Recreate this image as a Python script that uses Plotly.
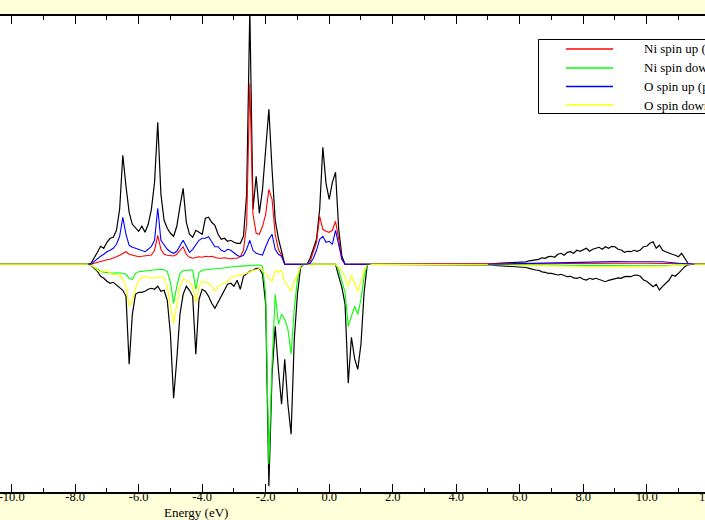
import plotly.graph_objects as go

# ---------------- data (DOS, arbitrary units; down-spin stored as magnitudes) ----------------
energy_vb = [round(-7.6 + 0.1 * i, 1) for i in range(90)]          # -7.6 ... 1.3 eV
energy_cb = [round(5.0 + 0.1 * i, 1) for i in range(65)]           # 5.0 ... 11.4 eV
energy_cb_coarse = [5.0, 5.5, 6.0, 6.5, 7.0, 7.5, 8.0, 8.5, 9.0, 9.5, 10.0, 10.5, 11.0, 11.5]

total_up_vb = [0, 1, 6, 12, 18, 16, 22, 26, 27, 34,
               55, 109, 78, 52, 40, 36, 33, 38, 32, 40,
               55, 82, 142, 70, 44, 36, 31, 28, 38, 58,
               76, 42, 30, 27, 34, 32, 30, 46, 47, 42,
               39, 30, 25, 26, 23, 24, 22, 21, 21, 28,
               70, 255, 55, 88, 51, 75, 118, 155, 95, 44,
               26, 14, 0, 0, 0, 0, 0, 0, 0, 0,
               6, 15, 25, 55, 117, 81, 65, 82, 92, 35,
               8, 0, 0, 0, 0, 0, 0, 0, 0, 0]
total_dn_vb = [0, 1, 4, 7, 12, 14, 17, 19, 18, 21,
               24, 26, 32, 100, 50, 30, 28, 28, 27, 25,
               24, 25, 22, 27, 26, 36, 70, 134, 95, 50,
               30, 22, 26, 32, 90, 35, 25, 27, 32, 39,
               44, 38, 33, 26, 20, 19, 22, 16, 25, 12,
               9, 7, 6, 4, 4, 10, 40, 222, 110, 62,
               105, 140, 95, 140, 170, 75, 30, 3, 0, 0,
               0, 0, 0, 0, 0, 0, 0, 0, 0, 12,
               23, 40, 119, 73, 94, 105, 80, 28, 0, 0]
ni_up_vb = [0, 0, 1, 2, 3, 4, 4.5, 5, 6, 7.6,
            9, 11, 12.6, 10, 9, 8, 7.6, 8, 8.3, 9,
            9.3, 14, 29, 15, 10, 9, 8.3, 8.3, 10, 14,
            17.6, 10, 7, 6, 7, 7.6, 7, 8, 7.6, 8,
            7, 6, 6, 6.5, 6, 5.5, 6, 6, 7.6, 14,
            40, 181, 50, 31, 30, 38, 50, 75, 65, 30,
            15, 9, 0, 0, 0, 0, 0, 0, 0, 0,
            3, 12, 22, 48, 35, 33, 32, 34, 43, 25,
            5, 0, 0, 0, 0, 0, 0, 0, 0, 0]
ni_dn_vb = [0, 1, 3, 5, 7, 8, 8.4, 9, 9, 8.5,
            8.4, 9, 10, 14, 15, 9, 7.4, 7, 6.5, 6.4,
            6, 5.7, 5.2, 5, 5.5, 7, 18, 39, 22, 9,
            6.4, 6, 5.7, 6, 25, 8, 6, 5.5, 5, 5,
            4.5, 4.2, 4, 3.5, 3, 2.5, 2.4, 2, 1.8, 1.7,
            1.2, 0.8, 0.7, 0.7, 0.7, 2, 30, 200, 100, 30,
            60, 50, 55, 65, 90, 45, 15, 1, 0, 0,
            0, 0, 0, 0, 0, 0, 0, 0, 0, 6,
            16, 28, 62, 51, 42, 50, 35, 12, 0, 0]
o_up_vb = [0, 0, 3, 6, 8, 10, 12.6, 14, 16, 20,
           28, 47, 30, 19, 17, 16, 15, 14, 12.6, 15,
           18, 24, 56, 24, 19, 15, 12.6, 11, 13, 18,
           24, 18, 12, 15, 20, 24, 26, 26, 27.6, 22,
           17.6, 17.6, 14, 12.6, 15, 14, 11, 9, 7.6, 9,
           15, 24, 14, 11, 10, 9.3, 17.6, 25, 30, 15,
           10, 8, 0, 0, 0, 0, 0, 0, 0, 0,
           1, 6, 14, 25, 28, 22, 23, 20, 34, 20,
           5, 0, 0, 0, 0, 0, 0, 0, 0, 0]
o_dn_vb = [0, 1, 3, 6, 8, 6, 6, 9, 10.7, 10,
           11, 15, 22, 42, 36, 24, 16, 13, 12.4, 13,
           14, 13, 12.4, 12.4, 14, 22, 42, 59, 40, 22,
           14, 16, 18, 22, 38, 22, 17, 18, 19, 22,
           27, 22, 20, 19, 17, 13, 12.4, 11, 10.7, 10,
           9, 7.5, 6, 5.5, 4, 6, 9, 14, 17, 6,
           8, 6, 18, 22, 27, 17, 11, 2, 0, 0,
           0, 0, 0, 0, 0, 0, 0, 0, 0, 3,
           7, 12.4, 22, 11, 19, 27, 17, 6, 0, 0]

total_up_cb = [0, 0.5, 0.8, 1, 1.2, 1.5, 1.5, 2, 1.8, 2.2,
               2.6, 3, 2.5, 3.5, 4, 4.3, 5, 6.5, 6, 7.6,
               8, 7, 10, 11, 9, 12, 12.6, 11, 14, 13,
               14.3, 16, 13, 15, 16, 17, 15, 17.6, 16, 18,
               17.6, 15, 14.3, 12, 13, 12.6, 14, 13, 14.3, 17.6,
               18, 21, 22.6, 16, 19, 14, 12.6, 11, 10, 9,
               7.6, 11, 6, 1, 0]
total_dn_cb = [0, 0.6, 1, 1.2, 1.5, 1.8, 2, 2.4, 2.2, 2.8,
               3, 3.5, 3.2, 4, 5, 5.7, 6, 7.5, 8, 9,
               9, 10, 10.7, 10, 11.5, 12.4, 12, 13.5, 14, 13,
               15, 15.7, 14, 15, 14, 15, 16, 17.4, 16, 15,
               14, 13.5, 14, 12.4, 12, 12.4, 11, 10.7, 12, 15.7,
               17, 20, 22.4, 20, 25.7, 22, 19, 16, 10.7, 12,
               9, 6, 2.4, 0.5, 0]
ni_up_cb = [0, 0.2, 0.3, 0.5, 0.6, 0.8, 1, 1, 1, 1, 1, 0.8, 0.4, 0]
ni_dn_cb = [0, 0.3, 0.5, 0.8, 1, 1.2, 1.5, 1.5, 1.5, 1.5, 1.6, 1.5, 0.5, 0]
o_up_cb = [0, 0.3, 0.6, 1, 1.5, 2, 2.5, 2.7, 2.7, 2.5, 2.7, 2.5, 1, 0]
o_dn_cb = [0, 0.5, 0.8, 1.2, 1.6, 2, 2.3, 2.4, 2.3, 2.2, 2.4, 2.2, 0.8, 0]

legend_labels = ["Ni spin up (d)", "Ni spin down (d)", "O spin up (p)", "O spin down (p)"]
tick_values = [-10, -8, -6, -4, -2, 0, 2, 4, 6, 8, 10]
tick_labels = ["-10.0", "-8.0", "-6.0", "-4.0", "-2.0", "0.0", "2.0", "4.0", "6.0", "8.0", "10.0"]
x_title = "Energy (eV)"

# ---------------- style / geometry ----------------
W, H = 705, 520
M_T, M_B = 16, 28
X_RANGE = [-10.368, 11.836]
Y_RANGE = [-227.7, 248.3]
BG = "#ffffd9"
SERIF = "Liberation Serif, Times New Roman, serif"
C_NI_UP = "#ff0000"
C_NI_DN = "#00ff00"
C_O_UP = "#0000ff"
C_O_DN = "#ffff00"

E_LO, E_HI = -11.5, 12.5


def full(vb_x, vb_y, cb_x, cb_y, sign):
    xs = [E_LO] + list(vb_x) + list(cb_x) + [E_HI]
    ys = [0] + [sign * v for v in vb_y] + [sign * v for v in cb_y] + [0]
    return xs, ys


def px_x(px):
    return px / W


def px_y(py):
    return (H - M_B - py) / (H - M_B - M_T)


fig = go.Figure()

x, y = full(energy_vb, total_up_vb, energy_cb, total_up_cb, 1)
fig.add_trace(go.Scatter(x=x, y=y, mode="lines", line=dict(color="black", width=1.2), showlegend=False))
x, y = full(energy_vb, total_dn_vb, energy_cb, total_dn_cb, -1)
fig.add_trace(go.Scatter(x=x, y=y, mode="lines", line=dict(color="black", width=1.2), showlegend=False))
x, y = full(energy_vb, ni_up_vb, energy_cb_coarse, ni_up_cb, 1)
fig.add_trace(go.Scatter(x=x, y=y, mode="lines", line=dict(color=C_NI_UP, width=1.1), showlegend=False))
x, y = full(energy_vb, ni_dn_vb, energy_cb_coarse, ni_dn_cb, -1)
fig.add_trace(go.Scatter(x=x, y=y, mode="lines", line=dict(color=C_NI_DN, width=1.1), showlegend=False))
x, y = full(energy_vb, o_dn_vb, energy_cb_coarse, o_dn_cb, -1)
fig.add_trace(go.Scatter(x=x, y=y, mode="lines", line=dict(color=C_O_DN, width=1.1), showlegend=False))
# O spin up drawn last, only over the band regions
x = list(energy_vb) + [None] + list(energy_cb_coarse)
y = list(o_up_vb) + [None] + list(o_up_cb)
fig.add_trace(go.Scatter(x=x, y=y, mode="lines", line=dict(color=C_O_UP, width=1.1),
                         connectgaps=False, showlegend=False))

# ---------------- manual legend (xmgrace style) ----------------
fig.add_trace(go.Scatter(x=[538.5, 760, 760, 538.5, 538.5], y=[39.5, 39.5, 113.5, 113.5, 39.5],
                         mode="lines", fill="toself", fillcolor="white",
                         line=dict(color="black", width=1),
                         xaxis="x2", yaxis="y2", showlegend=False, hoverinfo="skip"))
annotations = []
row_y = [49, 68, 86.5, 105]
row_cols = [C_NI_UP, C_NI_DN, C_O_UP, C_O_DN]
for lbl, c, ry in zip(legend_labels, row_cols, row_y):
    fig.add_trace(go.Scatter(x=[566, 613], y=[ry, ry], mode="lines",
                             line=dict(color=c, width=1.5),
                             xaxis="x2", yaxis="y2", showlegend=False, hoverinfo="skip"))
    annotations.append(dict(xref="paper", yref="paper", x=px_x(642), y=px_y(ry),
                            text=lbl, showarrow=False, xanchor="left", yanchor="middle",
                            font=dict(family=SERIF, size=13, color="black")))

# axis title (centred under the full original frame, not the visible window)
annotations.append(dict(xref="paper", yref="paper", x=px_x(196), y=px_y(512.5),
                        text=x_title, showarrow=False, xanchor="center", yanchor="middle",
                        font=dict(family=SERIF, size=13, color="black")))
# tick label "12.0" partly visible at the right edge
annotations.append(dict(xref="paper", yref="paper",
                        x=(12 - X_RANGE[0]) / (X_RANGE[1] - X_RANGE[0]), y=px_y(497),
                        text="12.0", showarrow=False, xanchor="center", yanchor="middle",
                        font=dict(family=SERIF, size=12.5, color="black")))

fig.update_layout(
    width=W, height=H,
    margin=dict(l=0, r=0, t=M_T, b=M_B, pad=0, autoexpand=False),
    paper_bgcolor=BG, plot_bgcolor="white",
    showlegend=False,
    annotations=annotations,
    xaxis=dict(range=X_RANGE, showgrid=False, zeroline=False,
               showline=True, linecolor="black", linewidth=2, mirror="allticks",
               ticks="inside", ticklen=8, tickwidth=1, tickcolor="black",
               tickvals=tick_values, ticktext=tick_labels,
               ticklabeloverflow="allow", ticklabelstandoff=-8,
               tickfont=dict(family=SERIF, size=12.5, color="black"),
               minor=dict(ticks="inside", ticklen=4, tickwidth=1, tickcolor="black",
                          dtick=1, tick0=1, showgrid=False)),
    yaxis=dict(range=Y_RANGE, visible=False, showgrid=False, zeroline=False),
    xaxis2=dict(range=[0, W], overlaying="x", visible=False, showgrid=False, zeroline=False),
    yaxis2=dict(range=[H - M_B, M_T], overlaying="y", visible=False, showgrid=False, zeroline=False),
)

fig.write_html("out.html", config=dict(displayModeBar=False, staticPlot=True),
               post_script="document.body.style.margin='0';document.body.style.overflow='hidden';")
